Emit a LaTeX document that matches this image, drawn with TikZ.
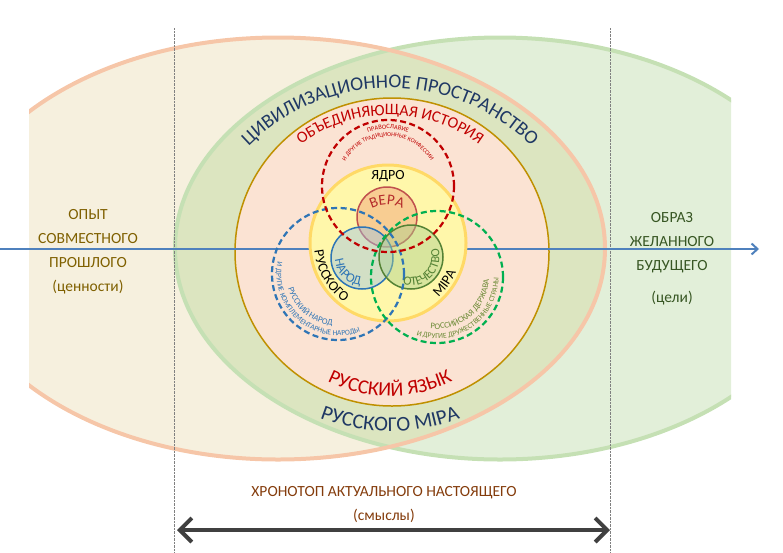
\documentclass[tikz,border=0pt]{standalone}
\usepackage{fontspec}
\setmainfont{Carlito}
\usetikzlibrary{arrows.meta,decorations.text}
\definecolor{pastfill}{HTML}{F6F0DE}
\definecolor{pastline}{HTML}{F6C6A8}
\definecolor{futfill}{HTML}{E2EFD9}
\definecolor{futline}{HTML}{C5E0B4}
\definecolor{lensfill}{HTML}{DCE5C0}
\definecolor{histfill}{HTML}{FBE3D3}
\definecolor{histline}{HTML}{BF9000}
\definecolor{corefill}{HTML}{FFF7AA}
\definecolor{coreline}{HTML}{FFD966}
\definecolor{faithfill}{HTML}{F4B183}
\definecolor{faithline}{HTML}{C0504D}
\definecolor{faithtext}{HTML}{B42A2A}
\definecolor{peoplefill}{HTML}{9DC3E6}
\definecolor{peopleline}{HTML}{2E75B6}
\definecolor{landfill}{HTML}{A9D18E}
\definecolor{landline}{HTML}{548235}
\definecolor{dashred}{HTML}{C00000}
\definecolor{dashblue}{HTML}{2E75B6}
\definecolor{dashgreen}{HTML}{00B050}
\definecolor{civblue}{HTML}{1F3864}
\definecolor{pasttext}{HTML}{7F6000}
\definecolor{futtext}{HTML}{375623}
\definecolor{nowtext}{HTML}{843C0C}
\definecolor{statetext}{HTML}{6A8A35}
\definecolor{timeline}{HTML}{4F81BD}
\definecolor{nowline}{HTML}{404040}
\begin{document}
\begin{tikzpicture}[x=1pt, y=1pt,
border/.style={line width=4pt},
ring/.style={line width=1.5pt, fill opacity=0.5},
dashring/.style={line width=2.2pt, dash pattern=on 6pt off 3.5pt},
curved/.style 2 args={decorate, decoration={text along path, text align=center, text={|#1|#2}}},
side/.style={inner sep=0pt, align=center, font=\fontsize{15.5}{24}\selectfont},
]
\useasboundingbox (0,0) rectangle (783,-552);
\coordinate (pastc) at (278,-248.5);
\coordinate (futc) at (500,-248.5);
\coordinate (hist) at (392,-252);
\coordinate (core) at (388,-243);
\coordinate (relig) at (388,-186);
\coordinate (nation) at (338,-274);
\coordinate (state) at (437,-277);
\coordinate (faith) at (387,-217);
\coordinate (people) at (362,-258);
\coordinate (land) at (411,-257);
\begin{scope}
	\clip (29,0) rectangle (731,-552);
	\fill[pastfill] (pastc) ellipse[x radius=327, y radius=211];
	\fill[futfill] (futc) ellipse[x radius=325, y radius=211];
	\begin{scope}
		\clip (pastc) ellipse[x radius=327, y radius=211];
		\fill[lensfill] (futc) ellipse[x radius=325, y radius=211];
	\end{scope}
	\draw[border, futline] (futc) ellipse[x radius=325, y radius=211];
	\draw[border, pastline] (pastc) ellipse[x radius=327, y radius=211];
\end{scope}
\coordinate (nowLtop) at (174,-28);
\coordinate (nowLbot) at (174,-552);
\coordinate (nowRtop) at (610,-28);
\coordinate (nowRbot) at (610,-552);
\draw[densely dotted, gray] (nowLtop) -- (nowLbot);
\draw[densely dotted, gray] (nowRtop) -- (nowRbot);
\draw[histline, fill=histfill, line width=1.5pt] (hist) ellipse[x radius=157, y radius=154];
\coordinate (timeS) at (0,-249);
\coordinate (timeE) at (759,-249);
\draw[timeline, line width=2pt, -{Straight Barb[length=6pt,width=11pt]}] (timeS) -- (timeE);
\draw[coreline, fill=corefill, line width=3pt] (core) circle[radius=78];
\draw[ring, faithline, fill=faithfill, fill opacity=0.6] (faith) circle[radius=30];
\draw[ring, peopleline, fill=peoplefill, fill opacity=0.45] (people) circle[radius=31];
\draw[ring, landline, fill=landfill, fill opacity=0.45] (land) circle[radius=32];
\draw[dashring, dashblue] (nation) circle[radius=66];
\draw[dashring, dashgreen] (state) circle[radius=66];
\draw[dashring, dashred] (relig) circle[radius=66];
\path[curved={\fontsize{19.5}{19.5}\selectfont\color{civblue}}{ЦИВИЛИЗАЦИОННОЕ ПРОСТРАНСТВО}]
	([shift={(160:200)}]390,-288) arc[start angle=160, end angle=20, radius=200];
\path[curved={\fontsize{21}{21}\selectfont\color{civblue}}{РУССКОГО МІРА}]
	([shift={(230:195)}]390,-236) arc[start angle=230, end angle=310, radius=195];
\path[curved={\fontsize{16}{16}\selectfont\color{dashred}}{ОБЪЕДИНЯЮЩАЯ ИСТОРИЯ}]
	([shift={(150:150)}]390,-265) arc[start angle=150, end angle=30, radius=150];
\path[curved={\fontsize{20}{20}\selectfont\color{dashred}}{РУССКИЙ ЯЗЫК}]
	([shift={(222:140)}]390,-256) arc[start angle=222, end angle=318, radius=140];
\path[curved={\fontsize{6.5}{6.5}\selectfont\color{dashred}}{ПРАВОСЛАВИЕ}]
	([shift={(150:57)}]relig) arc[start angle=150, end angle=30, radius=57];
\path[curved={\fontsize{6}{6}\selectfont\color{dashred}}{И ДРУГИЕ ТРАДИЦИОННЫЕ КОНФЕССИИ}]
	([shift={(175:49.5)}]relig) arc[start angle=175, end angle=5, radius=49.5];
\node[inner sep=0pt, font=\fontsize{14}{14}\selectfont] (kernel) at (388,-176) {ЯДРО};
\path[curved={\fontsize{15}{15}\selectfont\color{faithtext}}{ВЕРА}]
	([shift={(160:33)}]387,-238) arc[start angle=160, end angle=20, radius=33];
\path[curved={\fontsize{13}{13}\selectfont\color{peopleline}}{НАРОД}]
	([shift={(140:27)}]people) arc[start angle=140, end angle=310, radius=27];
\path[curved={\fontsize{12.5}{12.5}\selectfont\color{landline}}{ОТЕЧЕСТВО}]
	([shift={(225:28.5)}]land) arc[start angle=225, end angle=405, radius=28.5];
\path[curved={\fontsize{14}{14}\selectfont}{РУССКОГО}]
	([shift={(150:74)}]core) arc[start angle=150, end angle=270, radius=74];
\path[curved={\fontsize{14}{14}\selectfont}{МІРА}]
	([shift={(290:74)}]core) arc[start angle=290, end angle=360, radius=74];
\path[curved={\fontsize{8.5}{8.5}\selectfont\color{peopleline}}{РУССКИЙ НАРОД}]
	([shift={(170:52)}]nation) arc[start angle=170, end angle=290, radius=52];
\path[curved={\fontsize{7.5}{7.5}\selectfont\color{peopleline}}{И ДРУГИЕ КОМПЛЕМЕНТАРНЫЕ НАРОДЫ}]
	([shift={(130:61.5)}]nation) arc[start angle=130, end angle=330, radius=61.5];
\path[curved={\fontsize{8.5}{8.5}\selectfont\color{statetext}}{РОССИЙСКАЯ ДЕРЖАВА}]
	([shift={(250:52)}]state) arc[start angle=250, end angle=370, radius=52];
\path[curved={\fontsize{7.5}{7.5}\selectfont\color{statetext}}{И ДРУГИЕ ДРУЖЕСТВЕННЫЕ СТРАНЫ}]
	([shift={(205:61.5)}]state) arc[start angle=205, end angle=405, radius=61.5];
\node[side, text=pasttext] (past) at (88,-251.5) {ОПЫТ\\СОВМЕСТНОГО\\ПРОШЛОГО\\(ценности)};
\node[side, text=futtext] (future) at (672,-258.5) {ОБРАЗ\\ЖЕЛАННОГО\\БУДУЩЕГО\\[8pt](цели)};
\node[side, text=nowtext] (present) at (384,-505) {ХРОНОТОП АКТУАЛЬНОГО НАСТОЯЩЕГО\\(смыслы)};
\coordinate (chronoL) at (177,-530);
\coordinate (chronoR) at (610,-530);
\draw[nowline, line width=4pt, {Straight Barb[length=12pt,width=24pt]}-{Straight Barb[length=12pt,width=24pt]}] (chronoL) -- (chronoR);
\end{tikzpicture}
\end{document}
